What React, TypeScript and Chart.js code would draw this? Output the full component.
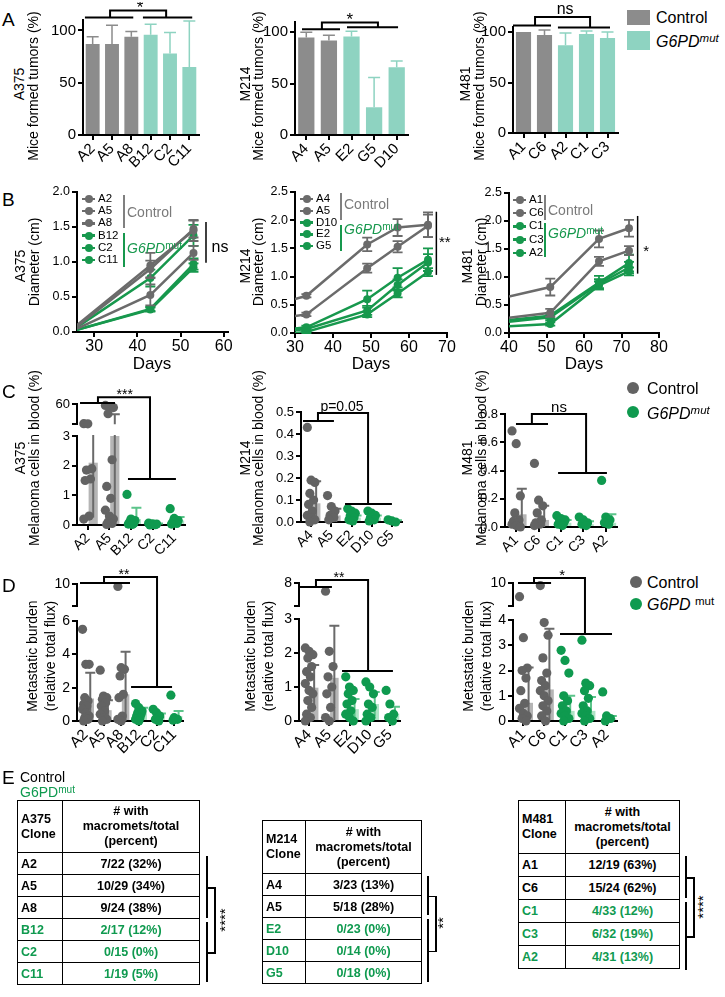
import React, { useEffect, useRef } from 'react';
import { Chart, registerables } from 'chart.js';
Chart.register(...registerables);

const FONT = '"Liberation Sans", Arial, Helvetica, sans-serif';
const GRAY_A = '#8c8c8c';
const TEAL_A = '#8ed3c1';
const GRAY_L = '#6b6b6b';
const GREEN_L = '#17984d';
const GRAY_D = '#636363';
const GREEN_D = '#0f9a4f';
const GRAY_BAR = 'rgba(120,120,120,0.55)';
const GREEN_BAR = 'rgba(95,200,140,0.5)';
const GRAY_ERR = '#6a6a6a';
const GREEN_ERR = '#5cc48a';

// ---------------- Panel A : mice formed tumors (%)
const aTicks = [0, 50, 100];
const aA375Cats = ['A2', 'A5', 'A8', 'B12', 'C2', 'C11'];
const aA375Pct = [87, 87, 94, 96, 78, 65];
const aA375Sd = [7, 18, 5, 10, 20, 44];
const aM214Cats = ['A4', 'A5', 'E2', 'G5', 'D10'];
const aM214Pct = [95, 92, 96, 27, 66];
const aM214Sd = [5, 5, 5, 29, 6];
const aM481Cats = ['A1', 'C6', 'A2', 'C1', 'C3'];
const aM481Pct = [100, 97, 87, 98, 94];
const aM481Sd = [0, 5, 12, 3, 6];

// ---------------- Panel B : diameter (cm) over days
const bA375Days = [26, 43, 53];
const bA375Names = ['A2', 'A5', 'A8', 'B12', 'C2', 'C11'];
const bA375Mean = [
  [0.10, 0.95, 1.45], [0.08, 0.90, 1.47], [0.05, 0.53, 1.13],
  [0.07, 0.77, 1.38], [0.03, 0.33, 0.97], [0.03, 0.32, 0.92],
];
const bA375Sd = [
  [0, 0.18, 0.15], [0, 0.12, 0.12], [0, 0.15, 0.10],
  [0, 0.12, 0.15], [0, 0.03, 0.08], [0, 0.03, 0.06],
];
const bM214Days = [30, 33, 49, 57, 65];
const bM214Names = ['A4', 'A5', 'D10', 'E2', 'G5'];
const bM214Mean = [
  [0.60, 0.66, 1.57, 1.87, 1.92], [0.30, 0.33, 1.15, 1.53, 1.90],
  [0.08, 0.10, 0.60, 0.98, 1.30], [0.05, 0.07, 0.40, 0.85, 1.25], [0.0, 0.02, 0.33, 0.70, 1.08],
];
const bM214Sd = [
  [0, 0.03, 0.12, 0.15, 0.22], [0, 0.03, 0.08, 0.10, 0.20],
  [0, 0.03, 0.15, 0.17, 0.20], [0, 0.03, 0.08, 0.10, 0.15], [0, 0.02, 0.05, 0.07, 0.07],
];
const bM481Days = [40, 51, 64, 72];
const bM481Names = ['A1', 'C6', 'C1', 'C3', 'A2'];
const bM481Mean = [
  [0.65, 0.82, 1.68, 1.87], [0.27, 0.36, 1.28, 1.47],
  [0.23, 0.31, 0.90, 1.25], [0.20, 0.28, 0.88, 1.17], [0.12, 0.16, 0.85, 1.10],
];
const bM481Sd = [
  [0, 0.15, 0.15, 0.15], [0, 0.07, 0.08, 0.08],
  [0, 0.05, 0.12, 0.15], [0, 0.05, 0.08, 0.10], [0, 0.03, 0.07, 0.07],
];
const bYTicks25 = [0, 0.5, 1.0, 1.5, 2.0, 2.5];
const bYTicks20 = [0, 0.5, 1.0, 1.5, 2.0];

// ---------------- Panel C : melanoma cells in blood (%)
const cA375Cats = ['A2', 'A5', 'B12', 'C2', 'C11'];
const cA375Pts = [
  [5.5, 5, 1.9, 1.85, 1.55, 1.5, 0.3, 0.2],
  [56, 53, 50, 33, 2.2, 1.3, 0.9, 0.5, 0.3, 0.2, 0.1, 0.05, 0.02],
  [1.03, 0.2, 0.15, 0.1, 0.05, 0.03, 0.02],
  [0.06, 0.04, 0.03, 0.02, 0.01, 0.0],
  [0.55, 0.22, 0.15, 0.1, 0.05, 0.03],
];
const cA375Mean = [2.1, 15.5, 0.2, 0.03, 0.15];
const cA375Sd = [1.85, 16, 0.38, 0.02, 0.12];
const cM214Cats = ['A4', 'A5', 'E2', 'D10', 'G5'];
const cM214Pts = [
  [0.43, 0.19, 0.18, 0.13, 0.1, 0.08, 0.05, 0.03, 0.02, 0.01, 0.0],
  [0.12, 0.07, 0.05, 0.03, 0.02, 0.01],
  [0.06, 0.05, 0.04, 0.03, 0.02, 0.01, 0.005],
  [0.05, 0.04, 0.03, 0.02, 0.01, 0.005],
  [0.01, 0.005, 0.0],
];
const cM214Mean = [0.085, 0.03, 0.02, 0.02, 0.005];
const cM214Sd = [0.1, 0.03, 0.01, 0.01, 0.003];
const cM481Cats = ['A1', 'C6', 'C1', 'C3', 'A2'];
const cM481Pts = [
  [0.68, 0.59, 0.22, 0.1, 0.05, 0.04, 0.03, 0.02, 0.01, 0.0],
  [0.45, 0.19, 0.15, 0.1, 0.05, 0.03, 0.02, 0.01],
  [0.08, 0.06, 0.05, 0.04, 0.03, 0.02, 0.01],
  [0.07, 0.05, 0.03, 0.02, 0.01],
  [0.33, 0.07, 0.05, 0.03, 0.02],
];
const cM481Mean = [0.09, 0.05, 0.03, 0.02, 0.03];
const cM481Sd = [0.18, 0.1, 0.02, 0.02, 0.06];

// ---------------- Panel D : metastatic burden
const dA375Cats = ['A2', 'A5', 'A8', 'B12', 'C2', 'C11'];
const dA375Pts = [
  [5.5, 3.4, 3.4, 1.4, 1.2, 1.0, 0.9, 0.7, 0.5, 0.3, 0.2, 0.1, 0.0],
  [3.05, 1.5, 1.4, 1.3, 1.1, 0.9, 0.6, 0.4, 0.2, 0.1, 0.0],
  [9.8, 3.2, 3.1, 2.7, 1.6, 1.4, 0.3, 0.1, 0.0],
  [1.05, 0.8, 0.6, 0.5, 0.4, 0.3, 0.2, 0.1, 0.0],
  [0.7, 0.5, 0.3, 0.1, 0.0],
  [1.55, 0.2, 0.1, 0.05],
];
const dA375Mean = [1.35, 0.65, 1.6, 0.5, 0.25, 0.3];
const dA375Sd = [1.55, 0.6, 2.55, 0.3, 0.2, 0.3];
const dM214Cats = ['A4', 'A5', 'E2', 'D10', 'G5'];
const dM214Pts = [
  [2.15, 2.05, 1.95, 1.85, 1.6, 1.45, 1.3, 1.1, 0.9, 0.8, 0.6, 0.4, 0.2, 0.1, 0.0],
  [7.3, 2.05, 1.6, 1.3, 1.0, 0.8, 0.4, 0.1, 0.0],
  [1.3, 1.0, 0.9, 0.8, 0.6, 0.5, 0.3, 0.2, 0.1, 0.0],
  [1.15, 1.0, 0.8, 0.5, 0.4, 0.2, 0.1, 0.0],
  [0.9, 0.5, 0.2, 0.1, 0.0],
];
const dM214Mean = [0.98, 1.27, 0.35, 0.5, 0.22];
const dM214Sd = [0.67, 1.53, 0.3, 0.35, 0.2];
const dM481Cats = ['A1', 'C6', 'C1', 'C3', 'A2'];
const dM481Pts = [
  [7.0, 3.3, 2.1, 2.0, 1.7, 1.2, 0.7, 0.5, 0.3, 0.2, 0.1, 0.0],
  [9.5, 3.9, 3.4, 2.5, 1.9, 1.6, 1.4, 1.2, 1.0, 0.8, 0.6, 0.4, 0.2, 0.0],
  [2.8, 2.4, 1.9, 1.0, 0.8, 0.6, 0.4, 0.3, 0.2, 0.1, 0.0],
  [3.2, 1.5, 1.4, 1.2, 0.9, 0.6, 0.4, 0.3, 0.2, 0.1, 0.0],
  [1.15, 0.2, 0.1, 0.0],
];
const dM481Mean = [0.72, 1.25, 0.4, 0.4, 0.1];
const dM481Sd = [1.4, 2.4, 0.6, 0.55, 0.1];

// ---------------- Panel E : tables
const eA375Clones = ['A2', 'A5', 'A8', 'B12', 'C2', 'C11'];
const eA375With = [7, 10, 9, 2, 0, 1];
const eA375Total = [22, 29, 24, 17, 15, 19];
const eA375Pct = [32, 34, 38, 12, 0, 5];
const eM214Clones = ['A4', 'A5', 'E2', 'D10', 'G5'];
const eM214With = [3, 5, 0, 0, 0];
const eM214Total = [23, 18, 23, 14, 18];
const eM214Pct = [13, 28, 0, 0, 0];
const eM481Clones = ['A1', 'C6', 'C1', 'C3', 'A2'];
const eM481With = [12, 15, 4, 6, 4];
const eM481Total = [19, 24, 33, 32, 31];
const eM481Pct = [63, 62, 12, 19, 13];

// ================= helpers
type Frame = { x0: number; x1: number; y0: number; y1: number; yw: number; xh: number; pt: number; pr: number; pb: number };
type Bracket = { l: number[]; yl: number; r: number[]; yr: number; apex: number[]; top: number; text: string; tx: number; font: number };
type VLine = { x: number; y0: number; y1: number; text: string; tx: number; ty: number; font: number };

function box(f: Frame) {
  return {
    left: f.x0 - f.yw,
    top: f.y0 - f.pt,
    width: f.x1 - f.x0 + f.yw + f.pr,
    height: f.y1 - f.y0 + f.pt + f.xh + f.pb,
  };
}

function drawErr(chart: any, i: number) {
  const ds = chart.data.datasets[i];
  if (!ds.sd) return;
  const meta = chart.getDatasetMeta(i);
  const ys = chart.scales[meta.yAxisID];
  const a = chart.chartArea;
  const ctx = chart.ctx;
  const over = ds.errOver ?? 1;
  ctx.save();
  ctx.beginPath();
  ctx.rect(a.left - 20, a.top - over, a.right - a.left + 40, a.bottom - a.top + over + 1);
  ctx.clip();
  ctx.lineWidth = ds.errWidth ?? 1.5;
  meta.data.forEach((el: any, j: number) => {
    const raw = ds.data[j];
    const m = typeof raw === 'number' ? raw : raw.y;
    const s = ds.sd[j];
    if (!s) return;
    const hi = m + s;
    const lo = ds.oneSided ? m : Math.max(0, m - s);
    if (hi < ys.min || lo > ys.max) return; // outside this axis segment
    const x = el.x;
    const yh = ys.getPixelForValue(hi);
    const yl = ys.getPixelForValue(Math.max(lo, ys.min));
    const col = Array.isArray(ds.errColor) ? ds.errColor[j] : ds.errColor;
    const cw = ds.capW ?? 5;
    ctx.strokeStyle = col;
    ctx.beginPath();
    ctx.moveTo(x, yl);
    ctx.lineTo(x, yh);
    ctx.moveTo(x - cw, yh);
    ctx.lineTo(x + cw, yh);
    if (ds.capBoth) {
      ctx.moveTo(x - cw, yl);
      ctx.lineTo(x + cw, yl);
    }
    ctx.stroke();
  });
  ctx.restore();
}

function makePlugin(brackets: Bracket[], vlines: VLine[]) {
  return {
    id: 'fig',
    afterDatasetDraw(chart: any, args: any) {
      drawErr(chart, args.index);
    },
    afterDraw(chart: any) {
      const ctx = chart.ctx;
      const xs = chart.scales.x;
      const ys = chart.scales.y;
      ctx.save();
      ctx.strokeStyle = '#000';
      ctx.fillStyle = '#000';
      ctx.lineWidth = 2;
      brackets.forEach((b) => {
        const X = (v: number) => xs.getPixelForValue(v);
        const Y = (v: number) => ys.getPixelForValue(v);
        ctx.beginPath();
        ctx.moveTo(X(b.l[0]), Y(b.yl));
        ctx.lineTo(X(b.l[1]), Y(b.yl));
        ctx.moveTo(X(b.r[0]), Y(b.yr));
        ctx.lineTo(X(b.r[1]), Y(b.yr));
        ctx.moveTo(X(b.apex[0]), Y(b.yl));
        ctx.lineTo(X(b.apex[0]), Y(b.top));
        ctx.lineTo(X(b.apex[1]), Y(b.top));
        ctx.lineTo(X(b.apex[1]), Y(b.yr));
        ctx.stroke();
        ctx.font = `${b.font}px ${FONT}`;
        ctx.textAlign = 'center';
        ctx.textBaseline = 'bottom';
        ctx.fillText(b.text, X(b.tx), Y(b.top) + (b.text.includes('*') ? b.font * 0.35 : 1));
      });
      vlines.forEach((v) => {
        ctx.beginPath();
        ctx.lineWidth = 1.5;
        ctx.moveTo(xs.getPixelForValue(v.x), ys.getPixelForValue(v.y0));
        ctx.lineTo(xs.getPixelForValue(v.x), ys.getPixelForValue(v.y1));
        ctx.stroke();
        ctx.font = `${v.font}px ${FONT}`;
        ctx.textAlign = 'left';
        ctx.textBaseline = 'middle';
        ctx.fillText(v.text, xs.getPixelForValue(v.tx), ys.getPixelForValue(v.ty));
      });
      ctx.restore();
    },
  };
}

const axisLook = {
  border: { display: true, color: '#000', width: 2 },
  grid: { display: true, drawOnChartArea: false, drawTicks: true, tickLength: 5, color: '#000', lineWidth: 2, offset: false },
};

function yScale(min: number, max: number, ticks: number[], fmt: (v: number) => string, font: number, yw: number) {
  return {
    type: 'linear', min, max, position: 'left',
    ...axisLook,
    ticks: { autoSkip: false, color: '#000', font: { family: FONT, size: font }, padding: 2, callback: (v: any) => fmt(Number(v)) },
    afterBuildTicks: (s: any) => { s.ticks = ticks.map((v) => ({ value: v })); },
    afterFit: (s: any) => { s.width = yw; },
  };
}

function xCat(font: number, xh: number, display: boolean) {
  return {
    type: 'category', display, offset: true,
    ...axisLook,
    ticks: { autoSkip: false, maxRotation: 45, minRotation: 45, color: '#000', font: { family: FONT, size: font }, padding: 0 },
    afterFit: (s: any) => { s.height = xh; },
  };
}

type Spec = { key: string; frame: Frame; make: () => any };

function baseOptions(f: Frame, scales: any, extra: any = {}) {
  return {
    responsive: false,
    animation: false,
    layout: { padding: { top: f.pt, right: f.pr, left: 0, bottom: f.pb } },
    plugins: { legend: { display: false }, tooltip: { enabled: false }, title: { display: false } },
    events: [],
    scales,
    ...extra,
  };
}

// Panel A bar chart
function barSpec(key: string, f: Frame, cats: string[], vals: number[], sd: number[], nCtl: number, yMax: number, br: Bracket): Spec {
  return {
    key, frame: f,
    make: () => ({
      type: 'bar',
      data: {
        labels: cats,
        datasets: [{
          data: vals,
          backgroundColor: cats.map((_, i) => (i < nCtl ? GRAY_A : TEAL_A)),
          barPercentage: 0.9, categoryPercentage: 0.8, clip: 0,
          sd, oneSided: true, errColor: cats.map((_, i) => (i < nCtl ? GRAY_A : TEAL_A)), errWidth: 1.5, capW: 6, errOver: 10,
        }],
      },
      options: baseOptions(f, {
        x: xCat(15, f.xh, true),
        y: yScale(0, yMax, aTicks, (v) => String(v), 15, f.yw),
      }),
      plugins: [makePlugin([br], [])],
    }),
  };
}

// Panel B line chart
function lineSpec(key: string, f: Frame, days: number[], names: string[], means: number[][], sds: number[][], nCtl: number,
  xMin: number, xMax: number, xTicks: number[], yMax: number, yTicks: number[], vl: VLine): Spec {
  return {
    key, frame: f,
    make: () => ({
      type: 'line',
      data: {
        datasets: names.map((n, k) => {
          const col = k < nCtl ? GRAY_L : GREEN_L;
          return {
            label: n,
            data: days.map((d, j) => ({ x: d, y: means[k][j] })),
            borderColor: col, backgroundColor: col, pointBackgroundColor: col, pointBorderColor: col,
            borderWidth: 2.5, pointRadius: days.map((_, j) => (j === 0 ? 0 : 4)), pointBorderWidth: 0,
            clip: 0,
            sd: sds[k], errColor: col, errWidth: 1.8, capW: 5, capBoth: true, errOver: 6,
          };
        }),
      },
      options: baseOptions(f, {
        x: {
          type: 'linear', min: xMin, max: xMax, position: 'bottom',
          ...axisLook,
          ticks: { autoSkip: false, color: '#000', font: { family: FONT, size: 16 }, padding: 0, maxRotation: 0 },
          afterBuildTicks: (s: any) => { s.ticks = xTicks.map((v) => ({ value: v })); },
          afterFit: (s: any) => { s.height = f.xh; },
        },
        y: yScale(0, yMax, yTicks, (v) => v.toFixed(1), 12.5, f.yw),
      }),
      plugins: [makePlugin([], [vl])],
    }),
  };
}

const jit = (j: number) => (((j * 3) % 7) - 3) * 0.062;

// Panels C / D dot + bar plots (optionally one segment of a broken axis)
function dotSpec(key: string, f: Frame, cats: string[], pts: number[][], mean: number[], sd: number[], nCtl: number,
  yMin: number, yMax: number, yTicks: number[], fmt: (v: number) => string, tickFont: number, catFont: number,
  showX: boolean, keepLo: number, keepHi: number, brackets: Bracket[]): Spec {
  const n = cats.length;
  const upper = !showX;
  const mk = (ctl: boolean) => {
    const out: any[] = [];
    pts.forEach((arr, i) => {
      if ((i < nCtl) !== ctl) return;
      arr.forEach((v, j) => {
        if (v >= keepLo && v <= keepHi) out.push({ x: i + jit(j), y: v });
      });
    });
    return out;
  };
  return {
    key, frame: f,
    make: () => ({
      type: 'bar',
      data: {
        labels: cats,
        datasets: [
          {
            type: 'scatter', data: mk(true), xAxisID: 'xj', yAxisID: 'y', order: 0,
            pointRadius: 4.6, pointBackgroundColor: GRAY_D, pointBorderWidth: 0, clip: false,
          },
          {
            type: 'scatter', data: mk(false), xAxisID: 'xj', yAxisID: 'y', order: 0,
            pointRadius: 4.6, pointBackgroundColor: GREEN_D, pointBorderWidth: 0, clip: false,
          },
          {
            type: 'bar', data: mean, xAxisID: 'x', yAxisID: 'y', order: 1,
            // the upper segment of a broken axis never shows the bar fill (means lie below it)
            backgroundColor: cats.map((_, i) => (upper ? 'rgba(0,0,0,0)' : i < nCtl ? GRAY_BAR : GREEN_BAR)),
            barPercentage: 0.85, categoryPercentage: 1, clip: 0,
            sd, errColor: cats.map((_, i) => (i < nCtl ? GRAY_ERR : GREEN_ERR)), errWidth: 2, capW: 5, errOver: 1,
          },
        ],
      },
      options: baseOptions(f, {
        x: xCat(catFont, f.xh, showX),
        xj: { type: 'linear', display: false, min: -0.5, max: n - 0.5, offset: false, grid: { offset: false } },
        y: yScale(yMin, yMax, yTicks, fmt, tickFont, f.yw),
      }),
      plugins: [makePlugin(brackets, [])],
    }),
  };
}

const fmtInt = (v: number) => String(v);
const fmt1 = (v: number) => v.toFixed(1);
const topOnly = (top: number) => (v: number) => (v === top ? String(top) : '');

const SPECS: Spec[] = [
  // ---- A
  barSpec('aA375', { x0: 83, x1: 199, y0: 20, y1: 135, yw: 52, xh: 40, pt: 18, pr: 4, pb: 0 }, aA375Cats, aA375Pct, aA375Sd, 3, 110,
    { l: [-0.4, 2.1], yl: 112.5, r: [2.6, 5.15], yr: 112.5, apex: [0.9, 3.8], top: 119, text: '*', tx: 2.45, font: 17 }),
  barSpec('aM214', { x0: 295, x1: 408, y0: 22, y1: 135, yw: 52, xh: 40, pt: 18, pr: 4, pb: 0 }, aM214Cats, aM214Pct, aM214Sd, 2, 110,
    { l: [-0.19, 1.49], yl: 103, r: [1.8, 4.06], yr: 105, apex: [0.69, 3.17], top: 109.5, text: '*', tx: 1.93, font: 17 }),
  barSpec('aM481', { x0: 513, x1: 618, y0: 27, y1: 133, yw: 52, xh: 40, pt: 24, pr: 4, pb: 0 }, aM481Cats, aM481Pct, aM481Sd, 2, 105,
    { l: [-0.5, 1.31], yl: 106.5, r: [1.64, 4.12], yr: 104.5, apex: [0.55, 3.17], top: 115, text: 'ns', tx: 1.98, font: 16 }),
  // ---- B
  lineSpec('bA375', { x0: 77, x1: 228, y0: 192, y1: 332, yw: 32, xh: 22, pt: 10, pr: 16, pb: 0 }, bA375Days, bA375Names, bA375Mean, bA375Sd, 3,
    26, 61, [30, 40, 50, 60], 2.0, bYTicks20, { x: 55.9, y0: 1.57, y1: 0.99, text: 'ns', tx: 57.2, ty: 1.2, font: 16 }),
  lineSpec('bM214', { x0: 295, x1: 447, y0: 192, y1: 333, yw: 32, xh: 22, pt: 10, pr: 16, pb: 0 }, bM214Days, bM214Names, bM214Mean, bM214Sd, 2,
    30, 70, [30, 40, 50, 60, 70], 2.5, bYTicks25, { x: 67.2, y0: 2.15, y1: 1.03, text: '**', tx: 67.9, ty: 1.6, font: 15 }),
  lineSpec('bM481', { x0: 509, x1: 659, y0: 193, y1: 333, yw: 32, xh: 22, pt: 10, pr: 16, pb: 0 }, bM481Days, bM481Names, bM481Mean, bM481Sd, 2,
    40, 80, [40, 50, 60, 70, 80], 2.5, bYTicks25, { x: 74.3, y0: 2.09, y1: 1.06, text: '*', tx: 75.8, ty: 1.45, font: 15 }),
  // ---- C
  dotSpec('cA375u', { x0: 77, x1: 185, y0: 404, y1: 426, yw: 40, xh: 0, pt: 10, pr: 6, pb: 8 }, cA375Cats, cA375Pts, cA375Mean, cA375Sd, 2,
    4, 60, [4, 60], topOnly(60), 13, 14, false, 4, 1000, []),
  dotSpec('cA375', { x0: 77, x1: 185, y0: 436, y1: 525, yw: 40, xh: 34, pt: 55, pr: 6, pb: 0 }, cA375Cats, cA375Pts, cA375Mean, cA375Sd, 2,
    0, 3, [0, 1, 2, 3], fmtInt, 13, 14, true, -1, 3,
    [{ l: [-0.36, 1.26], yl: 4.11, r: [1.86, 4.08], yr: 1.55, apex: [0.47, 2.88], top: 4.31, text: '***', tx: 1.71, font: 14 }]),
  dotSpec('cM214', { x0: 301, x1: 402, y0: 412, y1: 522, yw: 40, xh: 34, pt: 28, pr: 6, pb: 0 }, cM214Cats, cM214Pts, cM214Mean, cM214Sd, 2,
    0, 0.5, [0, 0.1, 0.2, 0.3, 0.4, 0.5], fmt1, 13, 14, true, -1, 1000,
    [{ l: [-0.4, 1.13], yl: 0.459, r: [1.68, 4.0], yr: 0.082, apex: [0.34, 2.82], top: 0.495, text: 'p=0.05', tx: 1.53, font: 14 }]),
  dotSpec('cM481', { x0: 505, x1: 617, y0: 414, y1: 527, yw: 40, xh: 34, pt: 28, pr: 6, pb: 0 }, cM481Cats, cM481Pts, cM481Mean, cM481Sd, 2,
    0, 0.8, [0, 0.2, 0.4, 0.6, 0.8], fmt1, 13, 14, true, -1, 1000,
    [{ l: [-0.01, 1.42], yl: 0.729, r: [1.87, 4.05], yr: 0.382, apex: [0.7, 3.12], top: 0.8, text: 'ns', tx: 1.91, font: 15 }]),
  // ---- D
  dotSpec('dA375u', { x0: 77, x1: 183, y0: 584, y1: 608, yw: 40, xh: 0, pt: 10, pr: 6, pb: 8 }, dA375Cats, dA375Pts, dA375Mean, dA375Sd, 3,
    8, 10, [8, 10], topOnly(10), 14, 15, false, 8, 1000, []),
  dotSpec('dA375', { x0: 77, x1: 183, y0: 621, y1: 721, yw: 40, xh: 34, pt: 60, pr: 6, pb: 0 }, dA375Cats, dA375Pts, dA375Mean, dA375Sd, 3,
    0, 6, [0, 2, 4, 6], fmtInt, 14, 15, true, -1, 6,
    [{ l: [-0.33, 2.5], yl: 8.28, r: [2.56, 4.88], yr: 2.04, apex: [1.03, 4.03], top: 8.64, text: '**', tx: 2.16, font: 14 }]),
  dotSpec('dM214u', { x0: 299, x1: 400, y0: 583, y1: 608, yw: 40, xh: 0, pt: 10, pr: 6, pb: 8 }, dM214Cats, dM214Pts, dM214Mean, dM214Sd, 2,
    6, 8, [6, 8], topOnly(8), 14, 15, false, 6, 1000, []),
  dotSpec('dM214', { x0: 299, x1: 400, y0: 619, y1: 721, yw: 40, xh: 34, pt: 60, pr: 6, pb: 0 }, dM214Cats, dM214Pts, dM214Mean, dM214Sd, 2,
    0, 3, [0, 1, 2, 3], fmtInt, 14, 15, true, -1, 3,
    [{ l: [-0.45, 1.13], yl: 3.94, r: [1.63, 4.15], yr: 1.47, apex: [0.34, 2.92], top: 4.15, text: '**', tx: 1.48, font: 14 }]),
  dotSpec('dM481u', { x0: 513, x1: 617, y0: 583, y1: 608, yw: 40, xh: 0, pt: 10, pr: 6, pb: 8 }, dM481Cats, dM481Pts, dM481Mean, dM481Sd, 2,
    5, 10, [5, 10], topOnly(10), 14, 15, false, 5, 1000, []),
  dotSpec('dM481', { x0: 513, x1: 617, y0: 620, y1: 721, yw: 40, xh: 34, pt: 60, pr: 6, pb: 0 }, dM481Cats, dM481Pts, dM481Mean, dM481Sd, 2,
    0, 4, [0, 1, 2, 3, 4], fmtInt, 14, 15, true, -1, 4,
    [{ l: [-0.26, 1.33], yl: 5.47, r: [1.76, 4.26], yr: 3.45, apex: [0.51, 2.96], top: 5.66, text: '*', tx: 1.86, font: 15 }]),
];

function ChartCanvas({ spec }: { spec: Spec }) {
  const ref = useRef<HTMLCanvasElement>(null);
  const b = box(spec.frame);
  useEffect(() => {
    const chart = new Chart(ref.current as HTMLCanvasElement, spec.make());
    return () => chart.destroy();
  }, []);
  return (
    <canvas ref={ref} width={b.width} height={b.height}
      style={{ position: 'absolute', left: b.left, top: b.top, width: b.width, height: b.height }} />
  );
}

// ================= HTML overlay pieces
function T({ x, y, size = 14, color = '#000', children, align = 'left', bold = false, italic = false }: any) {
  const tx = align === 'center' ? '-50%' : align === 'right' ? '-100%' : '0';
  return (
    <div style={{
      position: 'absolute', left: x, top: y, transform: `translate(${tx},-50%)`, whiteSpace: 'nowrap',
      fontSize: size, color, fontWeight: bold ? 'bold' : 'normal', fontStyle: italic ? 'italic' : 'normal', lineHeight: 1,
    }}>{children}</div>
  );
}

function RT({ x, y, size = 14, color = '#000', children }: any) {
  return (
    <div style={{
      position: 'absolute', left: x, top: y, transform: 'translate(-50%,-50%) rotate(-90deg)', whiteSpace: 'nowrap',
      fontSize: size, color, lineHeight: 1,
    }}>{children}</div>
  );
}

function G6PD({ supItalic = true, gap = false }: any) {
  return (
    <span><i>G6PD</i>{gap ? ' ' : ''}<span style={{ fontSize: '72%', verticalAlign: '38%', fontStyle: supItalic ? 'italic' : 'normal' }}>mut</span></span>
  );
}

function LineLegend({ x, y0, step, names, nCtl, grpX, ctl, mut }: any) {
  return (
    <>
      {names.map((n: string, i: number) => {
        const col = i < nCtl ? GRAY_L : GREEN_L;
        const y = y0 + i * step;
        return (
          <React.Fragment key={n}>
            <div style={{ position: 'absolute', left: x, top: y - 1.25, width: 13, height: 2.5, background: col }} />
            <div style={{ position: 'absolute', left: x + 2.5, top: y - 4, width: 8, height: 8, borderRadius: 4, background: col }} />
            <T x={x + 16} y={y} size={11.5}>{n}</T>
          </React.Fragment>
        );
      })}
      <div style={{ position: 'absolute', left: grpX, top: ctl[0], width: 1.5, height: ctl[1] - ctl[0], background: '#808080' }} />
      <T x={grpX + 4} y={ctl[2]} size={14} color="#7a7a7a">Control</T>
      <div style={{ position: 'absolute', left: grpX, top: mut[0], width: 1.5, height: mut[1] - mut[0], background: GREEN_L }} />
      <T x={grpX + 4} y={mut[2]} size={14} color={GREEN_L}><G6PD supItalic={false} /></T>
    </>
  );
}

function CloneTable({ x, y, w, c1, headH, rowH, title, clones, withN, total, pct, nCtl }: any) {
  const cell: any = { border: '1px solid #000', padding: 0, boxSizing: 'border-box' };
  return (
    <table style={{ position: 'absolute', left: x, top: y, width: w, borderCollapse: 'collapse', fontSize: 12.5, fontWeight: 'bold', fontFamily: FONT, tableLayout: 'fixed' }}>
      <tbody>
        <tr>
          <td style={{ ...cell, width: c1, height: headH, textAlign: 'left', paddingLeft: 3, lineHeight: '15px' }}>{title}<br />Clone</td>
          <td style={{ ...cell, height: headH, textAlign: 'center', lineHeight: '15px' }}># with<br />macromets/total<br />(percent)</td>
        </tr>
        {clones.map((c: string, i: number) => (
          <tr key={c} style={{ color: i < nCtl ? '#000' : GREEN_D }}>
            <td style={{ ...cell, height: rowH, textAlign: 'left', paddingLeft: 3 }}>{c}</td>
            <td style={{ ...cell, height: rowH, textAlign: 'center' }}>{`${withN[i]}/${total[i]} (${pct[i]}%)`}</td>
          </tr>
        ))}
      </tbody>
    </table>
  );
}

function VL({ x, y0, y1 }: any) {
  return <div style={{ position: 'absolute', left: x, top: y0, width: 1.5, height: y1 - y0, background: '#000' }} />;
}
function HL({ x0, x1, y }: any) {
  return <div style={{ position: 'absolute', left: x0, top: y, width: x1 - x0, height: 1.5, background: '#000' }} />;
}

function TableBracket({ x, c0, c1, m0, m1, stars, sx }: any) {
  const cm = (c0 + c1) / 2;
  const mm = (m0 + m1) / 2;
  return (
    <>
      <VL x={x} y0={c0} y1={c1} />
      <VL x={x} y0={m0} y1={m1} />
      <HL x0={x} x1={x + 8} y={cm} />
      <HL x0={x} x1={x + 8} y={mm} />
      <VL x={x + 8} y0={cm} y1={mm + 1.5} />
      <RT x={sx} y={(cm + mm) / 2} size={15} color="#000">{stars}</RT>
    </>
  );
}

export default function App() {
  return (
    <div style={{ position: 'absolute', left: 0, top: 0, width: 725, height: 997, background: '#fff', fontFamily: FONT, color: '#000', overflow: 'hidden' }}>
      {SPECS.map((s) => <ChartCanvas key={s.key} spec={s} />)}

      {/* panel letters */}
      <T x={2} y={19} size={19}>A</T>
      <T x={2} y={199} size={19}>B</T>
      <T x={2} y={391} size={19}>C</T>
      <T x={2} y={585} size={19}>D</T>
      <T x={2} y={777} size={19}>E</T>

      {/* A y titles */}
      <RT x={19} y={84} size={14}>A375</RT>
      <RT x={33} y={86} size={14}>Mice formed tumors (%)</RT>
      <RT x={245} y={84} size={14}>M214</RT>
      <RT x={258} y={86} size={14}>Mice formed tumors (%)</RT>
      <RT x={465} y={84} size={14}>M481</RT>
      <RT x={479} y={86} size={14}>Mice formed tumors (%)</RT>
      {/* A legend */}
      <div style={{ position: 'absolute', left: 627, top: 10, width: 23, height: 15, background: GRAY_A }} />
      <div style={{ position: 'absolute', left: 627, top: 31, width: 23, height: 19, background: TEAL_A }} />
      <T x={656} y={18} size={16}>Control</T>
      <T x={656} y={41} size={16}><i>G6PD<span style={{ fontSize: '72%', verticalAlign: '40%' }}>mut</span></i></T>

      {/* B y titles */}
      <RT x={20} y={266} size={14}>A375</RT>
      <RT x={34} y={262} size={14}>Diameter (cm)</RT>
      <RT x={245} y={266} size={14}>M214</RT>
      <RT x={258} y={262} size={14}>Diameter (cm)</RT>
      <RT x={467} y={266} size={14}>M481</RT>
      <RT x={481} y={262} size={14}>Diameter (cm)</RT>
      <T x={152} y={363} size={17} align="center">Days</T>
      <T x={371} y={363} size={17} align="center">Days</T>
      <T x={584} y={363} size={17} align="center">Days</T>
      <LineLegend x={82} y0={199} step={12.2} names={bA375Names} nCtl={3} grpX={123} ctl={[195, 228, 212]} mut={[233, 267, 248]} />
      <LineLegend x={300} y0={199} step={11.8} names={bM214Names} nCtl={2} grpX={340} ctl={[193, 220, 204]} mut={[225, 251, 229]} />
      <LineLegend x={513} y0={200} step={13.2} names={bM481Names} nCtl={2} grpX={544} ctl={[195, 220, 210]} mut={[223, 257, 233]} />

      {/* C y titles */}
      <RT x={20} y={458} size={14}>A375</RT>
      <RT x={34} y={458} size={14}>Melanoma cells in blood (%)</RT>
      <RT x={245} y={458} size={14}>M214</RT>
      <RT x={258} y={458} size={14}>Melanoma cells in blood (%)</RT>
      <RT x={467} y={458} size={14}>M481</RT>
      <RT x={481} y={458} size={14}>Melanoma cells in blood (%)</RT>
      {/* C legend */}
      <div style={{ position: 'absolute', left: 627, top: 382, width: 12, height: 12, borderRadius: 6, background: GRAY_D }} />
      <div style={{ position: 'absolute', left: 627, top: 406, width: 12, height: 12, borderRadius: 6, background: GREEN_D }} />
      <T x={647} y={389} size={16}>Control</T>
      <T x={647} y={413} size={16}><i>G6PD<span style={{ fontSize: '72%', verticalAlign: '40%' }}>mut</span></i></T>

      {/* D y titles */}
      <RT x={32} y={656} size={14}>Metastatic burden</RT>
      <RT x={50} y={656} size={14}>(relative total flux)</RT>
      <RT x={250} y={656} size={14}>Metastatic burden</RT>
      <RT x={268} y={656} size={14}>(relative total flux)</RT>
      <RT x={468} y={656} size={14}>Metastatic burden</RT>
      <RT x={486} y={656} size={14}>(relative total flux)</RT>
      {/* D legend */}
      <div style={{ position: 'absolute', left: 630, top: 576, width: 12, height: 12, borderRadius: 6, background: GRAY_D }} />
      <div style={{ position: 'absolute', left: 630, top: 598, width: 12, height: 12, borderRadius: 6, background: GREEN_D }} />
      <T x={647} y={583} size={16}>Control</T>
      <T x={647} y={605} size={16}><G6PD supItalic={false} gap={true} /></T>

      {/* E */}
      <T x={20} y={777} size={14}>Control</T>
      <T x={20} y={792} size={14} color={GREEN_D}>G6PD<span style={{ fontSize: '72%', verticalAlign: '40%' }}>mut</span></T>
      <CloneTable x={17} y={800} w={183} c1={45} headH={52} rowH={22} title="A375" clones={eA375Clones} withN={eA375With} total={eA375Total} pct={eA375Pct} nCtl={3} />
      <TableBracket x={206} c0={856} c1={918} m0={922} m1={982} stars="****" sx={224} />
      <CloneTable x={262} y={820} w={160} c1={43} headH={53} rowH={22} title="M214" clones={eM214Clones} withN={eM214With} total={eM214Total} pct={eM214Pct} nCtl={2} />
      <TableBracket x={427} c0={876} c1={915} m0={919} m1={982} stars="**" sx={442} />
      <CloneTable x={518} y={800} w={162} c1={47} headH={53} rowH={23} title="M481" clones={eM481Clones} withN={eM481With} total={eM481Total} pct={eM481Pct} nCtl={2} />
      <TableBracket x={685} c0={856} c1={898} m0={902} m1={970} stars="****" sx={702} />
    </div>
  );
}
